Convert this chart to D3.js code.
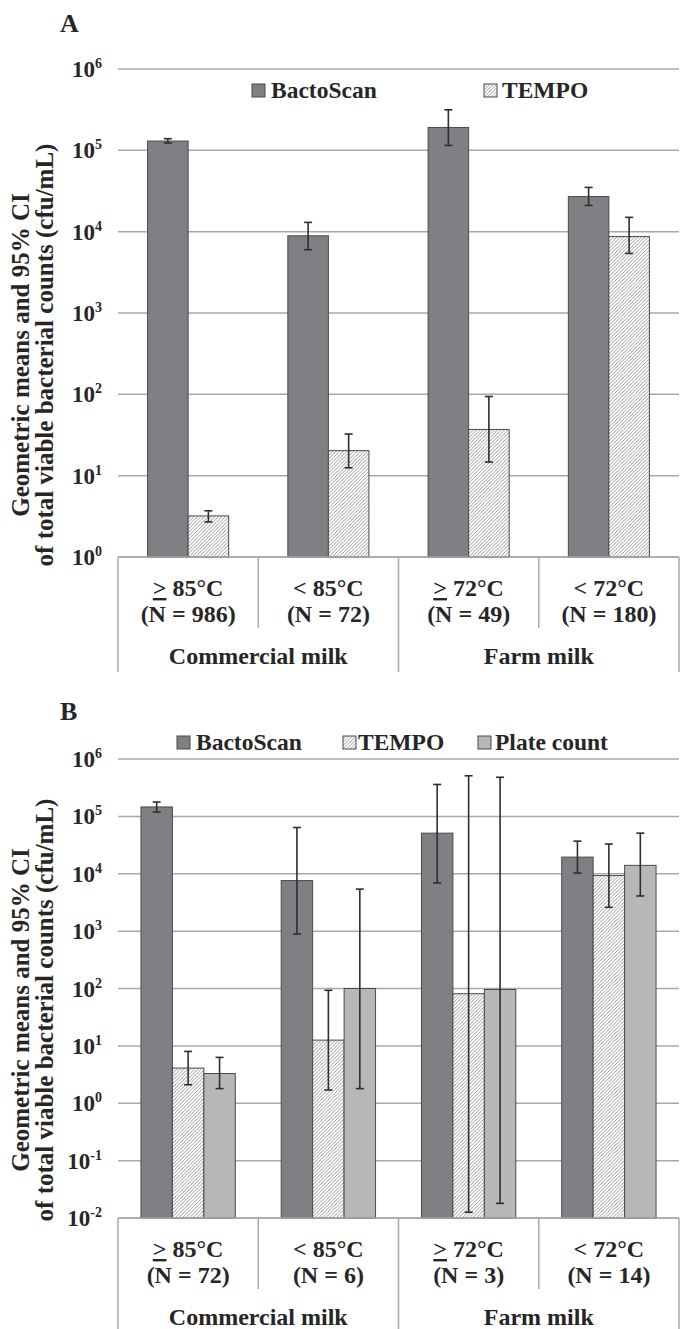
<!DOCTYPE html>
<html><head><meta charset="utf-8">
<script src="https://cdn.jsdelivr.net/npm/d3@7"></script>
<style>
body{margin:0;background:#fff}
text{font-family:"Liberation Serif","Times New Roman",serif;font-weight:bold;fill:#262626}
</style>
</head><body>
<svg id="c" width="680" height="1329"></svg>
<script>
// ---------- data ----------
const categories = ["≥ 85°C", "< 85°C", "≥ 72°C", "< 72°C"];
const groupLabels = ["Commercial milk", "Farm milk"];
const nLabelsA = ["(N = 986)", "(N = 72)", "(N = 49)", "(N = 180)"];
const nLabelsB = ["(N = 72)", "(N = 6)", "(N = 3)", "(N = 14)"];
const seriesNamesA = ["BactoScan", "TEMPO"];
const seriesNamesB = ["BactoScan", "TEMPO", "Plate count"];
const tickExpA = [0, 1, 2, 3, 4, 5, 6];
const tickExpB = [-2, -1, 0, 1, 2, 3, 4, 5, 6];

// Panel A
const bactoA    = [1.30e5, 8.9e3, 1.91e5, 2.7e4];
const bactoALo  = [1.23e5, 6.0e3, 1.15e5, 2.1e4];
const bactoAHi  = [1.39e5, 1.3e4, 3.15e5, 3.5e4];
const tempoA    = [3.2, 20.3, 37, 8.7e3];
const tempoALo  = [2.7, 12.5, 14.7, 5.4e3];
const tempoAHi  = [3.7, 32.5, 94, 1.5e4];

// Panel B
const bactoB    = [1.46e5, 7.6e3, 5.1e4, 1.95e4];
const bactoBLo  = [1.19e5, 890, 6.9e3, 1.03e4];
const bactoBHi  = [1.78e5, 6.4e4, 3.6e5, 3.7e4];
const tempoB    = [4.1, 12.6, 81, 9.3e3];
const tempoBLo  = [2.1, 1.7, 0.0126, 2.6e3];
const tempoBHi  = [8.0, 93, 5.1e5, 3.3e4];
const plateB    = [3.3, 100, 96, 1.4e4];
const plateBLo  = [1.8, 1.8, 0.018, 4.1e3];
const plateBHi  = [6.3, 5.4e3, 4.8e5, 5.1e4];

// ---------- drawing ----------
const svg = d3.select("#c");
const defs = svg.append("defs");
const hatch = defs.append("pattern").attr("id","hatch").attr("patternUnits","userSpaceOnUse")
  .attr("width",3.5).attr("height",3.5);
hatch.append("rect").attr("width",3.5).attr("height",3.5).attr("fill","#fff");
hatch.append("path").attr("d","M-1,1 l2,-2 M0,3.5 l3.5,-3.5 M2.5,4.5 l2,-2")
  .attr("stroke","#808080").attr("stroke-width",0.8);

const fills = {"BactoScan":"#808084", "TEMPO":"url(#hatch)", "Plate count":"#b7b7ba"};
const gridColor = "#a9a9a9";
const xLeft = 118, xRight = 679;
const FS = 24;

function catText(sel){
  sel.each(function(c){
    const t = d3.select(this);
    if (c.startsWith("≥")) {
      t.append("tspan").attr("text-decoration","underline").text(">");
      t.append("tspan").text(c.slice(1));
    } else t.text(c);
  });
}

function drawPanel(cfg){
  const g = svg.append("g");
  const y = d3.scaleLog().domain(cfg.domain).range([cfg.yBottom, cfg.yTop]);
  const x0 = d3.scaleBand().domain(categories).range([xLeft, xRight]).padding(0);
  const x1 = d3.scaleBand().domain(cfg.series.map(s=>s.name)).range([0, x0.bandwidth()])
    .paddingInner(0).paddingOuter(0.73);

  g.append("text").attr("x",60).attr("y",cfg.letterY).attr("font-size",26).text(cfg.letter);

  const ticks = cfg.tickExp.map(e=>Math.pow(10,e));
  g.selectAll("line.grid").data(ticks).join("line")
    .attr("x1",xLeft).attr("x2",xRight)
    .attr("y1",d=>y(d)).attr("y2",d=>y(d))
    .attr("stroke",gridColor).attr("stroke-width",1.5);

  const tl = g.selectAll("text.tick").data(cfg.tickExp).join("text")
    .attr("text-anchor","end").attr("x",102).attr("y",d=>y(Math.pow(10,d))+8)
    .attr("font-size",23);
  tl.append("tspan").text("10");
  tl.append("tspan").attr("dy",-9).attr("font-size",14).text(d=>String(d));

  cfg.series.forEach(s=>{
    g.selectAll(null).data(categories).join("rect")
      .attr("x",c=>x0(c)+x1(s.name))
      .attr("width",x1.bandwidth())
      .attr("y",(c,i)=>y(s.values[i]))
      .attr("height",(c,i)=>cfg.yBottom - y(s.values[i]))
      .attr("fill",fills[s.name]).attr("stroke","#4a4a4a").attr("stroke-width",1);
  });
  cfg.series.forEach(s=>{
    const cx = c=>x0(c)+x1(s.name)+x1.bandwidth()/2;
    const eg = g.selectAll(null).data(categories).join("g");
    eg.append("line").attr("x1",cx).attr("x2",cx)
      .attr("y1",(c,i)=>y(s.lo[i])).attr("y2",(c,i)=>y(s.hi[i]))
      .attr("stroke","#2e2e2e").attr("stroke-width",1.6);
    ["lo","hi"].forEach(k=>{
      eg.append("line").attr("x1",c=>cx(c)-4).attr("x2",c=>cx(c)+4)
        .attr("y1",(c,i)=>y(s[k][i])).attr("y2",(c,i)=>y(s[k][i]))
        .attr("stroke","#2e2e2e").attr("stroke-width",1.6);
    });
  });

  const yb = cfg.yBottom;
  g.append("line").attr("x1",xLeft).attr("x2",xRight).attr("y1",yb).attr("y2",yb)
    .attr("stroke",gridColor).attr("stroke-width",1.5);
  const bounds = categories.map(c=>x0(c)).concat([xRight]);
  bounds.forEach((bx,i)=>{
    const long = (i===0 || i===2 || i===4);
    g.append("line").attr("x1",bx).attr("x2",bx).attr("y1",yb)
      .attr("y2", yb + (long ? 115 : 71))
      .attr("stroke",gridColor).attr("stroke-width",1.5);
  });
  g.selectAll(null).data(categories).join("text")
    .attr("text-anchor","middle").attr("x",c=>x0(c)+x0.bandwidth()/2).attr("y",yb+39)
    .attr("font-size",FS).call(catText);
  g.selectAll(null).data(cfg.nLabels).join("text")
    .attr("text-anchor","middle").attr("x",(d,i)=>x0(categories[i])+x0.bandwidth()/2).attr("y",yb+65)
    .attr("font-size",FS).text(d=>d);
  g.selectAll(null).data(groupLabels).join("text")
    .attr("text-anchor","middle")
    .attr("x",(d,i)=>(x0(categories[i*2]) + x0(categories[i*2+1]) + x0.bandwidth())/2)
    .attr("y",yb+107).attr("font-size",FS).text(d=>d);

  const cy = cfg.titleCY;
  g.append("text").attr("transform",`translate(29,${cy}) rotate(-90)`)
    .attr("text-anchor","middle").attr("font-size",25).text("Geometric means and 95% CI");
  g.append("text").attr("transform",`translate(53,${cy}) rotate(-90)`)
    .attr("text-anchor","middle").attr("font-size",25).text("of total viable bacterial counts (cfu/mL)");

  cfg.legend.forEach(l=>{
    g.append("rect").attr("x",l.x).attr("y",cfg.legendY-14).attr("width",13).attr("height",13)
      .attr("fill",fills[l.name]).attr("stroke","#4a4a4a").attr("stroke-width",1);
    g.append("text").attr("x",l.tx).attr("y",cfg.legendY).attr("font-size",23.5).text(l.name);
  });
}

drawPanel({
  letter:"A", letterY:32, domain:[1,1e6], yTop:69, yBottom:557, tickExp:tickExpA,
  nLabels:nLabelsA, legendY:98, titleCY:355,
  legend:[{name:seriesNamesA[0],x:252,tx:271},{name:seriesNamesA[1],x:484,tx:502}],
  series:[
    {name:seriesNamesA[0], values:bactoA, lo:bactoALo, hi:bactoAHi},
    {name:seriesNamesA[1], values:tempoA, lo:tempoALo, hi:tempoAHi}
  ]
});
drawPanel({
  letter:"B", letterY:720, domain:[0.01,1e6], yTop:759, yBottom:1218, tickExp:tickExpB,
  nLabels:nLabelsB, legendY:750, titleCY:1010,
  legend:[{name:seriesNamesB[0],x:177,tx:196},{name:seriesNamesB[1],x:343,tx:358},{name:seriesNamesB[2],x:478,tx:495}],
  series:[
    {name:seriesNamesB[0], values:bactoB, lo:bactoBLo, hi:bactoBHi},
    {name:seriesNamesB[1], values:tempoB, lo:tempoBLo, hi:tempoBHi},
    {name:seriesNamesB[2], values:plateB, lo:plateBLo, hi:plateBHi}
  ]
});
</script>
</body></html>
